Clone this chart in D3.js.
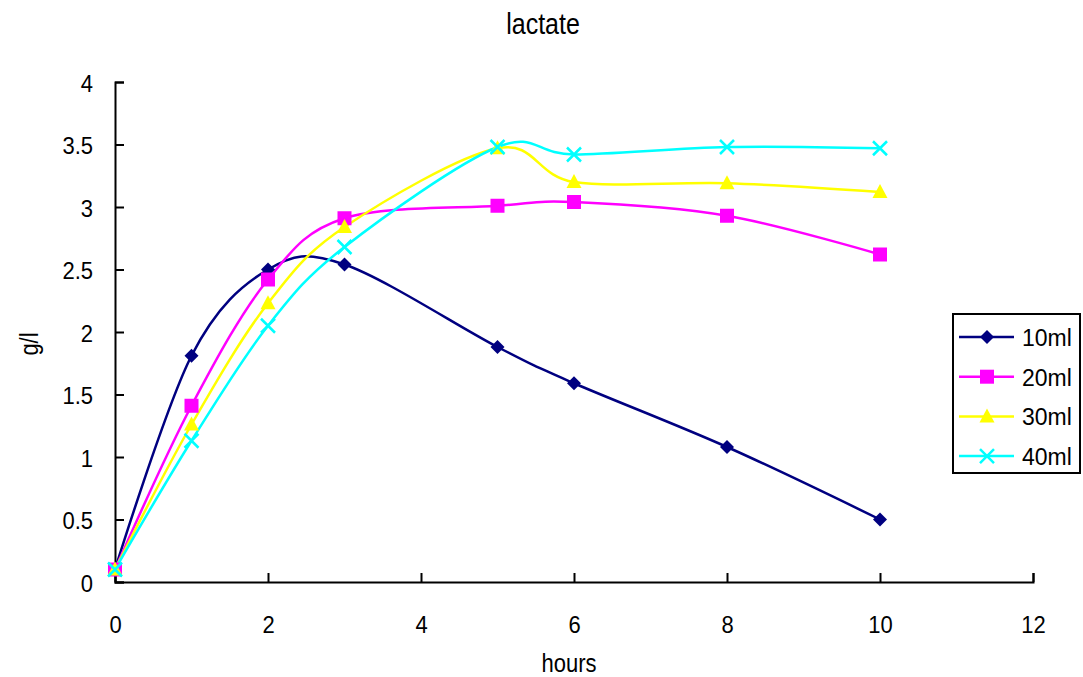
<!DOCTYPE html>
<html><head><meta charset="utf-8">
<script src="https://cdn.jsdelivr.net/npm/d3@7"></script>
<style>body{margin:0;background:#fff;} text{font-family:"Liberation Sans",Arial,sans-serif;fill:#000;}</style>
</head><body>
<svg id="c" width="1083" height="677"></svg>
<script>
const hours = [0, 1, 2, 3, 5, 6, 8, 10];
const s10 = [0.1, 1.81, 2.5, 2.54, 1.88, 1.59, 1.08, 0.5];
const s20 = [0.1, 1.41, 2.42, 2.91, 3.01, 3.04, 2.93, 2.62];
const s30 = [0.1, 1.26, 2.23, 2.84, 3.47, 3.2, 3.19, 3.12];
const s40 = [0.1, 1.13, 2.05, 2.68, 3.48, 3.42, 3.48, 3.47];
const seriesNames = ["10ml", "20ml", "30ml", "40ml"];
const xTicks = [0, 2, 4, 6, 8, 10, 12];
const yTicks = [0, 0.5, 1, 1.5, 2, 2.5, 3, 3.5, 4];

const colors = ["#000080", "#FF00FF", "#FFFF00", "#00FFFF"];
const symbols = ["diamond", "square", "triangle", "x"];
const series = [s10, s20, s30, s40].map((v, i) => ({name: seriesNames[i], values: v, color: colors[i], sym: symbols[i]}));

const svg = d3.select("#c");
const x = d3.scaleLinear().domain([0, 12]).range([115, 1033]);
const y = d3.scaleLinear().domain([0, 4]).range([582, 82]);

function txt(parent, tx, ty, str, size, anchor, rot, sy) {
  return parent.append("text")
    .attr("transform", `translate(${tx},${ty})${rot ? " rotate(" + rot + ")" : ""} scale(1,${sy || 1})`)
    .attr("text-anchor", anchor || "middle")
    .attr("font-size", size)
    .text(str);
}

// axes
const xAxis = d3.axisBottom(x).tickValues(xTicks).tickSize(-9).tickFormat("");
const gx = svg.append("g").attr("transform", `translate(0,${y(0)})`).call(xAxis);
const yAxis = d3.axisLeft(y).tickValues(yTicks).tickSize(-9).tickFormat("");
const gy = svg.append("g").attr("transform", `translate(${x(0)},0)`).call(yAxis);
[gx, gy].forEach(g => {
  g.select(".domain").attr("stroke", "#000").attr("stroke-width", 2);
  g.selectAll(".tick line").attr("stroke", "#000").attr("stroke-width", 2);
});
gx.selectAll(".tick").each(function(d) { txt(d3.select(this), 0, 51, String(d), 22, "middle", 0, 1.1); });
gy.selectAll(".tick").each(function(d) { txt(d3.select(this), -22, 9, String(d), 22, "end", 0, 1.05); });

// titles
txt(svg, 543, 34, "lactate", 25, "middle", 0, 1.2);
txt(svg, 569, 672, "hours", 22, "middle", 0, 1.2);
txt(svg, 38, 344, "g/l", 22, "middle", -90, 1.2);

const line = d3.line().x((d, i) => x(hours[i])).y(d => y(d)).curve(d3.curveCardinal.tension(0));

function drawMarker(g, sym, color, cx, cy) {
  if (sym === "diamond") {
    g.append("path").attr("d", `M${cx},${cy - 7}L${cx + 7},${cy}L${cx},${cy + 7}L${cx - 7},${cy}Z`).attr("fill", color);
  } else if (sym === "square") {
    g.append("rect").attr("x", cx - 7).attr("y", cy - 7).attr("width", 14).attr("height", 14).attr("fill", color);
  } else if (sym === "triangle") {
    g.append("path").attr("d", `M${cx},${cy - 8}L${cx + 7.5},${cy + 6}L${cx - 7.5},${cy + 6}Z`).attr("fill", color);
  } else {
    g.append("path").attr("d", `M${cx - 7},${cy - 7}L${cx + 7},${cy + 7}M${cx - 7},${cy + 7}L${cx + 7},${cy - 7}`).attr("stroke", color).attr("stroke-width", 2.5).attr("fill", "none");
  }
}

series.forEach(s => {
  svg.append("path").datum(s.values).attr("d", line).attr("fill", "none").attr("stroke", s.color).attr("stroke-width", 2.5);
});
series.forEach(s => {
  const g = svg.append("g");
  s.values.forEach((v, i) => drawMarker(g, s.sym, s.color, x(hours[i]), y(v)));
});

// legend
const lg = svg.append("g");
lg.append("rect").attr("x", 953).attr("y", 314).attr("width", 127).attr("height", 159).attr("fill", "#fff").attr("stroke", "#000").attr("stroke-width", 2);
series.forEach((s, i) => {
  const ly = 337 + i * 39.7;
  lg.append("line").attr("x1", 959).attr("x2", 1014).attr("y1", ly).attr("y2", ly).attr("stroke", s.color).attr("stroke-width", 2.5);
  drawMarker(lg, s.sym, s.color, 987, ly);
  txt(lg, 1022, ly + 9, s.name, 23, "start", 0, 1.05);
});
</script>
</body></html>
